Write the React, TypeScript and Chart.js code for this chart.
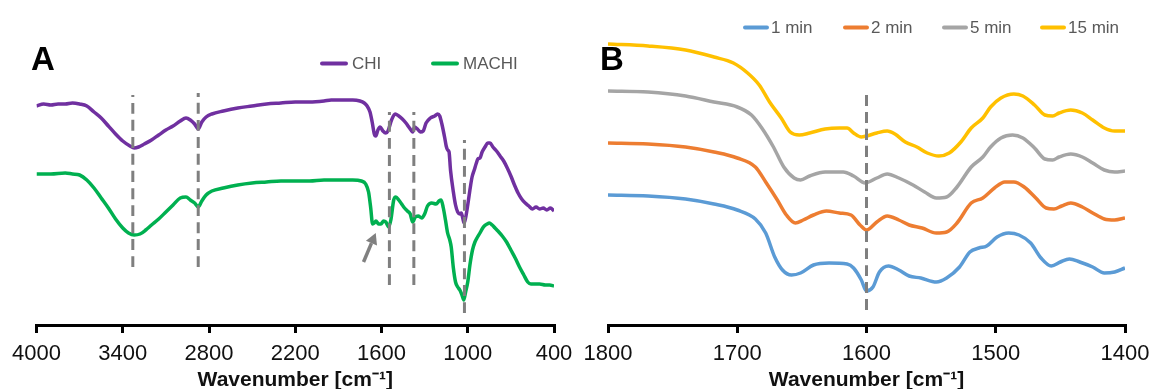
import React, { useEffect, useRef } from "react";
import { Chart, registerables } from "chart.js";

Chart.register(...registerables);

const FONT = "'Liberation Sans', Arial, Helvetica, sans-serif";

// ---------------- Panel A: FTIR spectra (transmittance, a.u.) ----------------
const chiX = [4000, 3950, 3900, 3850, 3800, 3750, 3700, 3650, 3600, 3550, 3500, 3450, 3400, 3350, 3320, 3290, 3250, 3200, 3150, 3100, 3050, 3000, 2960, 2930, 2900, 2875, 2850, 2820, 2780, 2700, 2600, 2500, 2400, 2300, 2200, 2100, 2000, 1950, 1900, 1850, 1800, 1750, 1720, 1700, 1680, 1665, 1650, 1640, 1625, 1610, 1590, 1570, 1555, 1530, 1505, 1480, 1455, 1430, 1410, 1395, 1383, 1370, 1350, 1330, 1310, 1290, 1260, 1230, 1210, 1195, 1180, 1160, 1150, 1140, 1130, 1120, 1100, 1085, 1070, 1055, 1045, 1035, 1025, 1015, 1000, 985, 970, 955, 940, 930, 915, 900, 880, 860, 845, 825, 800, 775, 750, 725, 700, 675, 650, 625, 600, 575, 550, 525, 500, 475, 450, 425, 400];
const chiY = [219, 221, 220, 221, 221, 222, 221, 219, 213, 207, 199, 191, 184, 179, 177, 178, 181, 185, 190, 195, 199, 204, 207, 205, 201, 196, 203, 208, 211, 214, 217, 219, 221, 222, 223, 223, 224, 225, 225, 225, 225, 224, 222, 219, 213, 203, 191, 189, 195, 198, 194, 192, 194, 205, 211, 209, 206, 202, 198, 195, 193, 198, 196, 193, 194, 202, 207, 209, 211, 209, 201, 187, 179, 175, 173, 155, 133, 120, 113, 111, 112, 107, 102, 107, 120, 135, 148, 155, 162, 166, 167, 173, 178, 182, 182, 178, 174, 169, 164, 157, 149, 140, 132, 126, 122, 119, 116, 118, 116, 117, 115, 117, 114];
const machiX = [4000, 3900, 3800, 3750, 3700, 3650, 3600, 3550, 3500, 3450, 3400, 3360, 3320, 3280, 3240, 3200, 3150, 3100, 3050, 3000, 2960, 2930, 2900, 2875, 2850, 2820, 2780, 2700, 2600, 2500, 2400, 2300, 2200, 2100, 2000, 1900, 1800, 1740, 1710, 1690, 1675, 1662, 1650, 1639, 1620, 1604, 1585, 1570, 1550, 1535, 1515, 1500, 1480, 1460, 1440, 1420, 1400, 1383, 1365, 1345, 1320, 1300, 1280, 1250, 1220, 1200, 1185, 1170, 1155, 1140, 1125, 1115, 1100, 1085, 1070, 1055, 1040, 1028, 1015, 1000, 985, 967, 950, 932, 915, 900, 885, 865, 850, 830, 810, 790, 760, 730, 700, 670, 640, 610, 583, 560, 530, 500, 460, 430, 400];
const machiY = [151, 151, 152, 151, 150, 145, 137, 127, 117, 106, 97, 92, 90, 91, 95, 100, 106, 113, 120, 127, 128, 125, 122, 118, 124, 130, 134, 137, 140, 142, 143, 144, 144, 144, 145, 145, 145, 144, 141, 133, 117, 101, 102, 104, 101, 101, 104, 103, 98, 105, 125, 128, 125, 121, 117, 114, 111, 103, 108, 109, 107, 111, 119, 122, 121, 124, 125, 117, 105, 92, 85, 78, 57, 43, 38, 35, 30, 25, 33, 43, 60, 75, 83, 88, 92, 96, 99, 101, 102, 100, 97, 94, 89, 83, 75, 67, 58, 50, 43, 41, 41, 41, 40, 40, 39];
const labelsA = ["CHI", "MACHI"];
const colorsA = ["#7030A0", "#00B050"];
const tickMinA = 400;
const tickMaxA = 4000;
const tickStepA = 600;
const dashXA = [3330, 2875, 1545, 1375, 1023];
const dashTopA = [230, 232, 213, 213, 185];
const dashBottomA = [58, 58, 40, 40, 12];
const arrowFromA = [1725, 63];
const arrowToA = [1640, 92];

// ---------------- Panel B: amide region vs. time ----------------
const min1X = [1800, 1769, 1740, 1718, 1700, 1686, 1678, 1671, 1665, 1658, 1651, 1641, 1629, 1615, 1610, 1604, 1600, 1595, 1590, 1583, 1575, 1567, 1558, 1546, 1538, 1528, 1520, 1513, 1507, 1499, 1490, 1482, 1473, 1465, 1457, 1450, 1443, 1435, 1425, 1416, 1408, 1400];
const min1Y = [130, 129, 126, 121, 115, 106, 92, 68, 55, 50, 52, 60, 62, 61, 57, 45, 34, 38, 53, 59, 55, 49, 47, 43, 47, 58, 73, 77, 79, 88, 92, 90, 82, 67, 59, 63, 66, 63, 58, 52, 53, 57];
const min2X = [1800, 1769, 1740, 1718, 1700, 1686, 1678, 1669, 1662, 1655, 1649, 1641, 1631, 1621, 1612, 1605, 1600, 1592, 1584, 1575, 1567, 1557, 1546, 1538, 1530, 1519, 1510, 1501, 1493, 1486, 1478, 1469, 1461, 1455, 1449, 1442, 1433, 1425, 1416, 1408, 1400];
const min2Y = [182, 181, 178, 173, 167, 158, 143, 125, 110, 102, 105, 110, 114, 112, 110, 100, 95, 103, 109, 105, 100, 97, 92, 93, 102, 122, 127, 137, 143, 143, 138, 127, 117, 116, 119, 122, 118, 112, 106, 105, 107];
const min5X = [1800, 1769, 1740, 1718, 1700, 1689, 1681, 1672, 1664, 1656, 1651, 1644, 1632, 1618, 1610, 1601, 1592, 1584, 1575, 1564, 1555, 1546, 1538, 1530, 1519, 1510, 1504, 1496, 1487, 1479, 1470, 1462, 1456, 1451, 1442, 1433, 1425, 1416, 1408, 1400];
const min5Y = [234, 233, 229, 223, 218, 210, 197, 178, 158, 147, 145, 149, 153, 153, 149, 142, 147, 151, 147, 140, 133, 127, 128, 138, 158, 168, 178, 187, 190, 187, 177, 166, 165, 168, 171, 168, 162, 155, 153, 154];
const min15X = [1800, 1769, 1740, 1718, 1703, 1692, 1683, 1675, 1666, 1659, 1652, 1644, 1632, 1621, 1615, 1610, 1604, 1600, 1592, 1584, 1578, 1570, 1561, 1553, 1544, 1536, 1527, 1519, 1510, 1504, 1496, 1486, 1479, 1470, 1462, 1456, 1451, 1442, 1433, 1425, 1416, 1408, 1400];
const min15Y = [281, 279, 275, 268, 262, 252, 240, 223, 207, 193, 190, 192, 196, 197, 197, 192, 188, 189, 192, 194, 191, 183, 178, 172, 169, 172, 183, 197, 207, 218, 227, 231, 229, 220, 210, 209, 212, 215, 212, 205, 197, 194, 194];
const labelsB = ["1 min", "2 min", "5 min", "15 min"];
const colorsB = ["#5B9BD5", "#ED7D31", "#A5A5A5", "#FFC000"];
const tickMinB = 1400;
const tickMaxB = 1800;
const tickStepB = 100;
const dashXB = [1600];
const dashTopB = [235];
const dashBottomB = [15];

const Y_MAX = 305;

const toPoints = (xs: number[], ys: number[]) => xs.map((x, i) => ({ x, y: ys[i] }));

const dashDatasets = (xs: number[], tops: number[], bottoms: number[]) =>
  xs.map((x, i) => ({
    label: "",
    data: [{ x, y: bottoms[i] }, { x, y: tops[i] }],
    borderColor: "#7F7F7F",
    borderWidth: 3,
    borderDash: [11, 6],
    pointRadius: 0,
    order: 0,
  }));

const decorPlugin = {
  id: "panelDecor",
  afterDraw(chart: any, _args: any, opts: any) {
    const ctx = chart.ctx;
    ctx.save();
    // panel letter
    ctx.font = `bold 33px ${FONT}`;
    ctx.fillStyle = "#000";
    ctx.textAlign = "left";
    ctx.textBaseline = "alphabetic";
    ctx.fillText(opts.letter, opts.letterX, opts.letterY);
    // legend
    const items = chart.data.datasets.filter((d: any) => d.label);
    items.forEach((ds: any, i: number) => {
      const x = opts.legendX[i];
      const y = opts.legendY;
      ctx.strokeStyle = ds.borderColor;
      ctx.lineWidth = 4;
      ctx.lineCap = "round";
      ctx.beginPath();
      ctx.moveTo(x + 2, y);
      ctx.lineTo(x + opts.legendLine - 2, y);
      ctx.stroke();
      ctx.font = `17px ${FONT}`;
      ctx.fillStyle = "#595959";
      ctx.textBaseline = "middle";
      ctx.fillText(ds.label, x + opts.legendText, y + 1);
    });
    // arrow
    if (opts.arrowFrom) {
      const xs = chart.scales.x;
      const ys = chart.scales.y;
      const x1 = xs.getPixelForValue(opts.arrowFrom[0]);
      const y1 = ys.getPixelForValue(opts.arrowFrom[1]);
      const x2 = xs.getPixelForValue(opts.arrowTo[0]);
      const y2 = ys.getPixelForValue(opts.arrowTo[1]);
      const ang = Math.atan2(y2 - y1, x2 - x1);
      const head = 11;
      const hx = x2 - head * Math.cos(ang);
      const hy = y2 - head * Math.sin(ang);
      ctx.strokeStyle = "#808080";
      ctx.fillStyle = "#808080";
      ctx.lineWidth = 3.5;
      ctx.lineCap = "butt";
      ctx.beginPath();
      ctx.moveTo(x1, y1);
      ctx.lineTo(hx, hy);
      ctx.stroke();
      ctx.beginPath();
      ctx.moveTo(x2, y2);
      ctx.lineTo(hx + 6 * Math.sin(ang), hy - 6 * Math.cos(ang));
      ctx.lineTo(hx - 6 * Math.sin(ang), hy + 6 * Math.cos(ang));
      ctx.closePath();
      ctx.fill();
    }
    ctx.restore();
  },
};

function makeOptions(min: number, max: number, step: number, padLeft: number, padRight: number, decor: any) {
  return {
    responsive: false,
    animation: false as const,
    events: [] as any[],
    layout: { padding: { left: padLeft, right: padRight, top: 20, bottom: 0 } },
    plugins: {
      legend: { display: false },
      tooltip: { enabled: false },
      panelDecor: decor,
    },
    elements: { line: { tension: 0, cubicInterpolationMode: "monotone" as const } },
    scales: {
      x: {
        type: "linear" as const,
        reverse: true,
        min,
        max,
        ticks: {
          stepSize: step,
          autoSkip: false,
          maxRotation: 0,
          color: "#111",
          padding: 7.3,
          font: { size: 22, family: FONT },
          callback: (v: any) => String(v),
        },
        grid: { drawOnChartArea: false, drawTicks: true, tickLength: 8, color: "#000", lineWidth: 3 },
        border: { display: true, color: "#000", width: 3 },
        title: {
          display: true,
          text: "Wavenumber [cm\u207B\u00B9]",
          color: "#111",
          font: { size: 21, weight: "bold" as const, family: FONT },
          padding: { top: -6.2, bottom: 0 },
        },
      },
      y: { type: "linear" as const, display: false, min: 0, max: Y_MAX },
    },
  };
}

function PanelA() {
  const ref = useRef<HTMLCanvasElement>(null);
  useEffect(() => {
    const series = [toPoints(chiX, chiY), toPoints(machiX, machiY)];
    const chart = new Chart(ref.current as HTMLCanvasElement, {
      type: "line",
      data: {
        datasets: [
          ...dashDatasets(dashXA, dashTopA, dashBottomA),
          ...series.map((d, i) => ({
            label: labelsA[i],
            data: d,
            borderColor: colorsA[i],
            backgroundColor: colorsA[i],
            borderWidth: 3.5,
            pointRadius: 0,
            order: 1,
          })),
        ],
      } as any,
      options: makeOptions(tickMinA, tickMaxA, tickStepA, 36.5, 26, {
        letter: "A",
        letterX: 31,
        letterY: 70,
        legendX: [320, 431],
        legendY: 63.5,
        legendLine: 28,
        legendText: 32,
        arrowFrom: arrowFromA,
        arrowTo: arrowToA,
      }) as any,
      plugins: [decorPlugin],
    });
    return () => chart.destroy();
  }, []);
  return <canvas ref={ref} width={580} height={393} style={{ position: "absolute", left: 0, top: 0, display: "block" }} />;
}

function PanelB() {
  const ref = useRef<HTMLCanvasElement>(null);
  useEffect(() => {
    const series = [toPoints(min1X, min1Y), toPoints(min2X, min2Y), toPoints(min5X, min5Y), toPoints(min15X, min15Y)];
    const chart = new Chart(ref.current as HTMLCanvasElement, {
      type: "line",
      data: {
        datasets: [
          ...dashDatasets(dashXB, dashTopB, dashBottomB),
          ...series.map((d, i) => ({
            label: labelsB[i],
            data: d,
            borderColor: colorsB[i],
            backgroundColor: colorsB[i],
            borderWidth: 3.5,
            pointRadius: 0,
            order: 1,
          })),
        ],
      } as any,
      options: makeOptions(tickMinB, tickMaxB, tickStepB, 33, 40, {
        letter: "B",
        letterX: 25,
        letterY: 70,
        legendX: [168, 268, 367, 465],
        legendY: 27.5,
        legendLine: 26,
        legendText: 28,
      }) as any,
      plugins: [decorPlugin],
    });
    return () => chart.destroy();
  }, []);
  return <canvas ref={ref} width={590} height={393} style={{ position: "absolute", left: 575, top: 0, display: "block" }} />;
}

export default function App() {
  return (
    <div style={{ position: "fixed", left: 0, top: 0, width: 1150, height: 389, overflow: "hidden", background: "#fff" }}>
      <PanelA />
      <PanelB />
    </div>
  );
}
